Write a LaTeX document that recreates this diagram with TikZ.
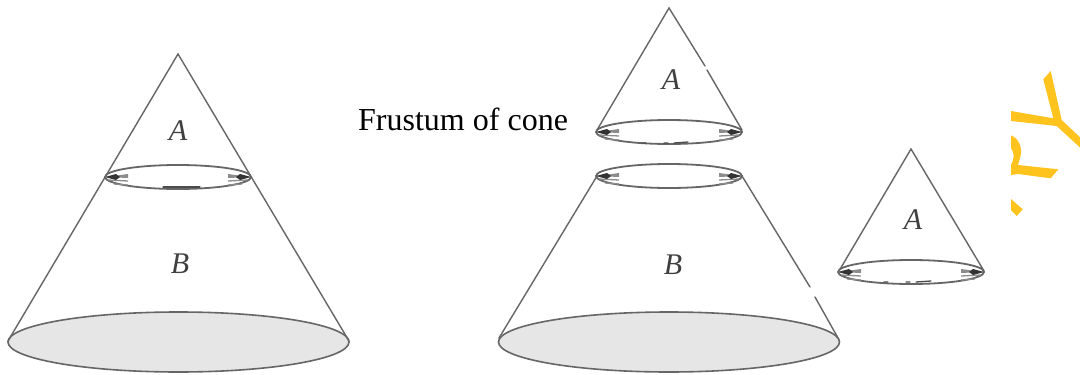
\documentclass[tikz,border=0pt]{standalone}
\usepackage{fontspec}
\setmainfont{Liberation Serif}
\definecolor{ink}{HTML}{666666}
\definecolor{basefill}{HTML}{E6E6E6}
\definecolor{stamp}{HTML}{FFC31E}
\tikzset{
  coneline/.style={draw=ink,line width=1.4pt,line cap=round},
  baseoval/.style={draw=ink,line width=1.6pt,fill=basefill},
  ringoval/.style={draw=ink,line width=1.8pt,fill=white},
  ringshade/.style={draw=black!45,line width=1.3pt},
  ringwedge/.style={fill=black!45,draw=none},
  ringdark/.style={fill=black!80,draw=none},
  speck/.style={draw=black!70,line width=1.3pt,line cap=round},
  lab/.style={font=\fontsize{30}{30}\selectfont\itshape,text=black!75,inner sep=0pt},
  captiontext/.style={font=\fontsize{32}{32}\selectfont,text=black,inner sep=0pt,anchor=base west},
  stampfill/.style={fill=stamp,draw=none}
}
\newcommand{\ringat}[2]{%
  \begin{scope}[shift={(#1,#2)}]
    \draw[ringoval] (0,0) ellipse [x radius=73,y radius=12];
    \fill[ringwedge] (-72,0) -- (-50,-3) -- (-50,1) -- cycle;
    \fill[ringwedge] (72,0) -- (50,-3) -- (50,1) -- cycle;
    \draw[ringshade] (-70,3) -- (-50,4) (-64,7) -- (-50,8);
    \draw[ringshade] (70,3) -- (50,4) (64,7) -- (50,8);
    \fill[ringdark] (-73,0) -- (-62,-3) -- (-58,0) -- (-62,3) -- cycle;
    \fill[ringdark] (73,0) -- (62,-3) -- (58,0) -- (62,3) -- cycle;
  \end{scope}}
\begin{document}
\begin{tikzpicture}[x=1pt,y=-1pt]
\useasboundingbox[fill=white] (0,0) rectangle (1080,375);
% left cone
\coordinate (la) at (178,54);
\coordinate (lbl) at (8,341);
\coordinate (lbr) at (349,341);
\draw[baseoval] (178.5,342) ellipse [x radius=170.5,y radius=30];
\ringat{178}{177}
\draw[coneline] (lbl) -- (la) -- (lbr);
\node[lab] (a1) at (178,131) {A};
\node[lab] (b1) at (180,264) {B};
% caption
\node[captiontext] (title) at (358,130) {Frustum of cone};
% top piece
\coordinate (ta) at (669,8);
\coordinate (tl) at (597,130);
\coordinate (tr) at (742,130);
\ringat{669}{132}
\draw[coneline] (tl) -- (ta) -- (705,66);
\draw[coneline] (707,70) -- (tr);
\node[lab] (a2) at (671,80) {A};
% frustum
\coordinate (fl) at (597,176);
\coordinate (fr) at (742,176);
\coordinate (fbl) at (499,338);
\coordinate (fbr) at (838,338);
\draw[baseoval] (669,342) ellipse [x radius=170.5,y radius=30];
\ringat{669}{176}
\draw[coneline] (fl) -- (fbl);
\draw[coneline] (fr) -- (810,287);
\draw[coneline] (815,297) -- (fbr);
\node[lab] (b2) at (673,265) {B};
% right small cone
\coordinate (sa) at (911,149);
\coordinate (sl) at (839,271);
\coordinate (sr) at (984,271);
\ringat{911}{272}
\draw[coneline] (sl) -- (sa) -- (sr);
\node[lab] (a3) at (913,220) {A};
% specks in the small ovals
\draw[speck] (642,143) -- (646,143) (664,143) -- (668,143) (674,143) -- (688,142);
\draw[speck] (884,282) -- (888,282) (906,282) -- (910,282) (916,282) -- (931,281);
\draw[speck] (163,187) -- (200,187);
% cut-off stamp letters
\fill[stampfill] (1043.3,79.3) -- (1050.7,71) -- (1061.7,120) -- (1080,137.3) -- (1080,147.5) -- (1056.7,126) -- (1011,121) -- (1011,111) -- (1053.3,118.3) -- cycle;
\fill[stampfill] (1011,135.3) .. controls (1020,139) and (1023,150) .. (1020,158) -- (1018,165) -- (1058.3,169.3) -- (1050.7,178.3) -- (1018,174) -- (1011,175) -- (1011,165) .. controls (1014,160) and (1015,153) .. (1011,148) -- cycle;
\fill[stampfill] (1011,199) -- (1022.7,209.3) -- (1016.7,216) -- (1011,210) -- cycle;
\end{tikzpicture}
\end{document}
